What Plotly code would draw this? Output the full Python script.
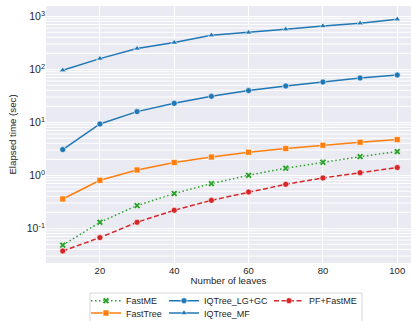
import plotly.graph_objects as go

leaves = [10, 20, 30, 40, 50, 60, 70, 80, 90, 100]
fastme = [0.048, 0.13, 0.268, 0.452, 0.697, 1.0, 1.36, 1.76, 2.25, 2.8]
fasttree = [0.357, 0.805, 1.26, 1.74, 2.21, 2.72, 3.19, 3.68, 4.2, 4.71]
iq_lggc = [3.05, 9.3, 15.9, 22.8, 30.9, 39.6, 48.4, 57.5, 68.5, 78.0]
iq_mf = [96, 159, 246, 319, 438, 494, 569, 656, 738, 877]
pf_fastme = [0.0373, 0.0667, 0.13, 0.219, 0.337, 0.484, 0.676, 0.89, 1.12, 1.40]

y_tickvals = [0.1, 1, 10, 100, 1000]
y_ticktext = ["10<sup>-1</sup>", "10<sup>0</sup>", "10<sup>1</sup>", "10<sup>2</sup>", "10<sup>3</sup>"]
x_tickvals = [20, 40, 60, 80, 100]

FONT = "Liberation Sans, Arial, sans-serif"
TXT = "#262626"

W, H = 411, 321
L, T, B = 46, 6, 58
pw = W - L
ph = H - T - B
XR = [5.5, 103.7]


def px_to_paper_x(px):
    return (px - L) / pw


def py_to_paper_y(py):
    return (H - B - py) / ph


# (name, values, colour, dash, symbol, marker size, legend id, legend text x px, legend row y px)
series = [
    ("FastME", fastme, "#2ca02c", "1.5px,2.5px", "x", 6, "legend", 127, 300.7),
    ("FastTree", fasttree, "#ff7f0e", "solid", "square", 6, "legend2", 127, 313),
    ("IQTree_LG+GC", iq_lggc, "#1f77b4", "solid", "circle", 6, "legend3", 205, 300.7),
    ("IQTree_MF", iq_mf, "#1f77b4", "solid", "triangle-up", 6, "legend4", 205, 313),
    ("PF+FastME", pf_fastme, "#d62728", "5px,2.5px", "circle", 6, "legend5", 310, 300.7),
]

fig = go.Figure()

# minor log gridlines (white) drawn beneath the data
gx, gy = [], []
for k in range(-2, 4):
    for m in range(2, 10):
        v = m * 10 ** k
        gx += [XR[0], XR[1], None]
        gy += [v, v, None]
fig.add_trace(go.Scatter(x=gx, y=gy, mode="lines", line=dict(color="#FFFFFF", width=1.0),
                         hoverinfo="skip", showlegend=False, connectgaps=False))

for name, vals, col, dash, sym, ms, leg, tx, ty in series:
    fig.add_trace(go.Scatter(
        x=leaves, y=vals, name=name, mode="lines+markers",
        line=dict(color=col, width=1.5, dash=dash),
        marker=dict(symbol=sym, size=ms, color=col, line=dict(color="white", width=0.6)),
        legend=leg,
    ))

legends = {}
for name, vals, col, dash, sym, ms, leg, tx, ty in series:
    legends[leg] = dict(
        orientation="v", xanchor="left", yanchor="middle",
        x=px_to_paper_x(tx - 41), y=py_to_paper_y(ty),
        bgcolor="rgba(0,0,0,0)", borderwidth=0,
        font=dict(family=FONT, size=9, color=TXT),
        itemwidth=30,
    )

fig.update_layout(
    width=W, height=H,
    margin=dict(l=L, r=0, t=T, b=B, pad=0, autoexpand=False),
    paper_bgcolor="white",
    plot_bgcolor="#EAEAF2",
    font=dict(family=FONT, size=9, color=TXT),
    xaxis=dict(
        range=XR,
        tickvals=x_tickvals,
        showgrid=True, gridcolor="white", gridwidth=1.2,
        zeroline=False, showline=False, ticks="",
        tickfont=dict(size=9.5, color=TXT),
        title=dict(text="Number of leaves", font=dict(size=9.7, color=TXT), standoff=1),
    ),
    yaxis=dict(
        type="log",
        range=[-1.655, 3.194],
        tickvals=y_tickvals, ticktext=y_ticktext,
        showgrid=True, gridcolor="white", gridwidth=1.2,
        zeroline=False, showline=False, ticks="",
        tickfont=dict(size=10.5, color=TXT),
        title=dict(text="Elapsed time (sec)", font=dict(size=9.7, color=TXT), standoff=8),
    ),
    shapes=[dict(
        type="rect", xref="paper", yref="paper",
        x0=px_to_paper_x(90), x1=px_to_paper_x(362),
        y0=py_to_paper_y(336), y1=py_to_paper_y(293),
        fillcolor="white", line=dict(color="#CCCCCC", width=0.8), layer="below",
    )],
    **legends,
)

fig.write_html("out.html")
